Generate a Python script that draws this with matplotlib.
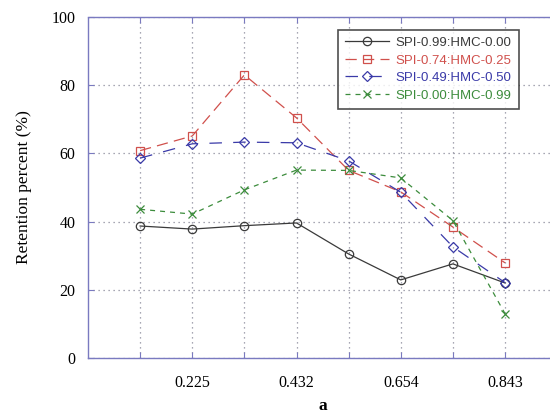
import numpy as np
import matplotlib
matplotlib.use("Agg")
import matplotlib.pyplot as plt

# categorical x positions; only every other one carries a label
positions = [1, 2, 3, 4, 5, 6, 7, 8]
tick_labels = ["", "0.225", "", "0.432", "", "0.654", "", "0.843"]

spi99 = [38.7, 37.8, 38.8, 39.6, 30.5, 22.9, 27.6, 22.0]
spi74 = [60.8, 65.1, 83.0, 70.4, 55.0, 48.7, 38.4, 27.9]
spi49 = [58.6, 62.8, 63.3, 63.1, 57.8, 48.6, 32.6, 22.1]
spi00 = [43.6, 42.2, 49.3, 55.1, 55.0, 52.8, 40.3, 13.0]

series = [
    ("SPI-0.99:HMC-0.00", spi99, "#3a3a3a", "o", "-"),
    ("SPI-0.74:HMC-0.25", spi74, "#d0504c", "s", (0, (9, 5))),
    ("SPI-0.49:HMC-0.50", spi49, "#3a3aa8", "D", (0, (10, 9))),
    ("SPI-0.00:HMC-0.99", spi00, "#3c8c3c", "x", (0, (4, 4))),
]

serif = ["Liberation Serif", "DejaVu Serif"]
frame = "#7a7ac0"

fig = plt.figure(figsize=(5.5, 4.18), dpi=100)
# right edge of the axes runs past the figure, as in the original crop
ax = fig.add_axes([0.16, 0.1435, 0.853, 0.816])

for label, vals, col, mk, ls in series:
    ms = 4.8 if mk == "D" else 6
    ax.plot(positions, vals, linestyle=ls, color=col, lw=0.9, marker=mk,
            ms=ms, mfc="none", mec=col, mew=0.9, label=label)

ax.set_xlim(0, 9)
ax.set_ylim(0, 100)
ax.set_xticks(positions)
ax.set_xticklabels(tick_labels, family=serif, fontsize=11.5)
ax.set_yticks([0, 20, 40, 60, 80, 100])
ax.set_yticklabels(["0", "20", "40", "60", "80", "100"], family=serif, fontsize=11.5)
ax.tick_params(axis="x", direction="in", length=4, color=frame, top=True, pad=12)
ax.tick_params(axis="y", direction="in", length=4, color=frame, pad=9)

ax.grid(True, linestyle=(0, (1, 3)), color="#8a8a9a", lw=0.9)
for side in ("left", "top", "bottom", "right"):
    ax.spines[side].set_color(frame)
    ax.spines[side].set_linewidth(1.0)
ax.spines["left"].set_linestyle((0, (2, 1)))
ax.spines["top"].set_linestyle((0, (2, 1)))

ax.set_ylabel("Retention percent (%)", family=serif, fontsize=12.5, labelpad=14)
ax.set_xlabel("a", family=serif, fontsize=12.5, fontweight="bold", labelpad=5)

leg = ax.legend(loc="upper left", bbox_to_anchor=(0.533, 0.963),
                frameon=True, fancybox=False, edgecolor="#222222",
                handlelength=3.3, handletextpad=0.5, borderpad=0.55,
                borderaxespad=0, labelspacing=0.4,
                prop={"family": "Liberation Sans", "size": 9.5})
leg.get_frame().set_linewidth(1.2)
for text, (_, _, col, _, _) in zip(leg.get_texts(), series):
    text.set_color(col)

fig.savefig("out.png", dpi=100)
